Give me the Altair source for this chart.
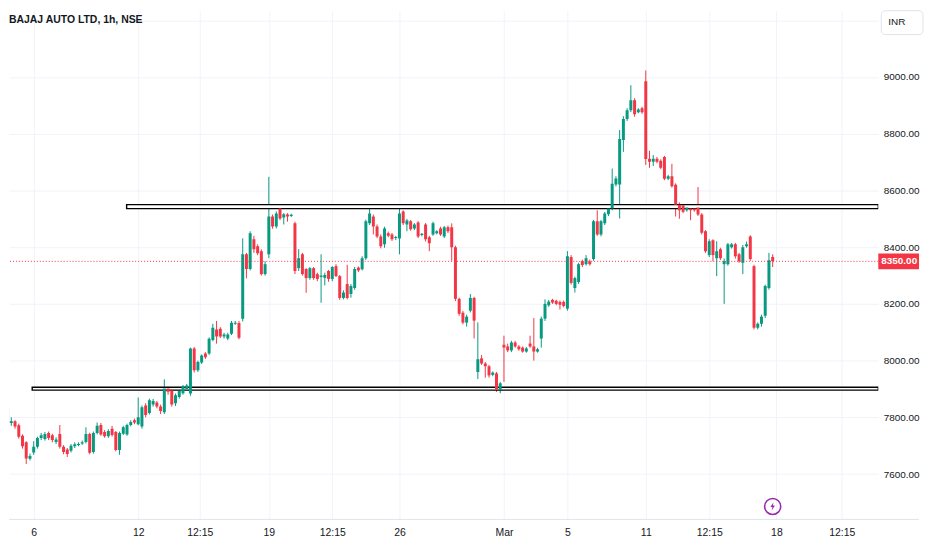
import altair as alt
import pandas as pd

# ---------------- data ----------------
opens = [7832,7780,7786,7772,7735,7712,7654,7676,7696,7727,7724,7745,7737,7713,7741,7696,7687,7682,7698,7703,
         7708,7713,7741,7678,7745,7773,7748,7733,7760,7748,7685,7742,7740,7773,7790,7776,7768,7842,7815,7845,
         7852,7838,7818,7902,7895,7850,7872,7885,7900,7884,8043,7966,7993,8025,8025,8073,8110,8112,8085,8078,
         8095,8130,8133,8148,8375,8323,8428,8403,8386,8305,8375,8508,8473,8536,8505,8515,8510,8484,8326,8375,
         8323,8291,8326,8305,8295,8292,8316,8288,8333,8298,8221,8270,8235,8256,8328,8322,8361,8484,8508,8473,
         8438,8410,8449,8445,8433,8431,8526,8480,8491,8466,8487,8443,8480,8435,8445,8449,8466,8438,8470,8470,
         8400,8218,8169,8134,8176,8221,7960,8008,7990,7980,7950,7955,7897,8056,8050,8036,8064,8050,8046,8032,
         8060,8050,8032,8078,8148,8195,8214,8211,8207,8207,8183,8365,8256,8277,8351,8340,8350,8358,8491,8445,
         8484,8516,8536,8621,8621,8778,8852,8883,8918,8876,8890,8985,8712,8701,8712,8705,8718,8641,8650,8620,
         8550,8548,8530,8536,8536,8540,8515,8456,8372,8424,8361,8393,8340,8340,8400,8410,8375,8345,8403,8438,
         8333,8116,8130,8158,8256,8365]
highs = [7843,7800,7790,7778,7740,7716,7672,7716,7732,7745,7748,7750,7742,7730,7773,7702,7692,7706,7712,7712,
         7718,7765,7746,7750,7782,7780,7755,7758,7770,7752,7750,7770,7778,7790,7796,7870,7842,7850,7866,7865,
         7858,7845,7934,7908,7900,7884,7900,7914,7918,8046,8048,8000,8022,8030,8082,8130,8140,8118,8098,8098,
         8140,8140,8140,8431,8380,8456,8440,8410,8392,8350,8648,8515,8526,8545,8520,8520,8518,8490,8393,8380,
         8326,8330,8330,8310,8375,8310,8320,8333,8340,8302,8248,8338,8270,8330,8332,8368,8497,8550,8515,8480,
         8445,8472,8455,8450,8440,8543,8530,8500,8496,8485,8492,8450,8485,8440,8490,8460,8472,8475,8476,8484,
         8405,8222,8175,8162,8235,8225,8135,8020,7995,7985,7962,7960,7925,8088,8060,8070,8070,8055,8050,8048,
         8088,8150,8045,8155,8216,8214,8218,8215,8212,8212,8386,8372,8296,8345,8356,8372,8356,8496,8530,8496,
         8524,8541,8677,8650,8813,8862,8890,8971,8925,8890,8895,9023,8740,8725,8718,8710,8722,8655,8694,8625,
         8558,8552,8545,8540,8540,8612,8520,8460,8428,8428,8421,8398,8360,8415,8415,8415,8380,8408,8420,8442,
         8338,8135,8162,8268,8380,8375]
lows = [7750,7770,7760,7725,7690,7636,7648,7668,7690,7720,7718,7720,7712,7706,7690,7670,7660,7676,7692,7698,
        7703,7708,7670,7672,7740,7735,7728,7728,7732,7680,7668,7738,7735,7768,7776,7772,7760,7800,7810,7838,
        7832,7812,7812,7880,7838,7840,7866,7880,7895,7876,7958,7960,7988,8006,8020,8068,8060,8080,8078,8072,
        8090,8126,8075,8138,8290,8318,8380,8372,8300,8300,8361,8465,8466,8495,8480,8490,8506,8305,8316,8300,
        8239,8285,8285,8280,8204,8265,8278,8280,8295,8214,8216,8216,8222,8250,8312,8318,8355,8478,8445,8432,
        8396,8398,8435,8422,8425,8375,8478,8456,8458,8460,8432,8438,8420,8386,8440,8445,8440,8432,8450,8352,
        8210,8158,8128,8120,8170,8078,7935,7985,7940,7940,7945,7890,7885,7925,8030,8030,8045,8035,8028,8028,
        8045,8000,8028,8046,8140,8190,8200,8195,8180,8188,8176,8268,8240,8270,8330,8335,8335,8352,8440,8438,
        8478,8510,8530,8614,8501,8736,8845,8876,8860,8872,8870,8690,8680,8686,8696,8675,8636,8636,8610,8508,
        8500,8520,8525,8495,8525,8510,8445,8380,8365,8350,8298,8355,8200,8335,8395,8360,8345,8305,8398,8352,
        8110,8110,8120,8150,8250,8330]
closes = [7780,7786,7768,7732,7698,7655,7664,7696,7727,7737,7741,7727,7720,7722,7696,7678,7671,7700,7705,7706,
          7712,7741,7675,7745,7770,7740,7733,7752,7738,7685,7745,7765,7773,7784,7782,7800,7836,7808,7860,7858,
          7838,7822,7902,7890,7845,7878,7894,7910,7912,8043,7966,7995,8018,8012,8077,8116,8085,8085,8092,8092,
          8134,8134,8081,8375,8323,8449,8393,8379,8305,8340,8508,8473,8519,8501,8516,8508,8514,8316,8361,8305,
          8291,8326,8291,8288,8300,8302,8288,8330,8298,8221,8240,8221,8263,8323,8318,8361,8491,8519,8473,8438,
          8403,8466,8440,8428,8436,8519,8484,8494,8463,8480,8438,8447,8428,8414,8484,8456,8445,8470,8456,8400,
          8218,8165,8134,8155,8221,8141,8005,7990,7980,7948,7958,7897,7920,8046,8036,8064,8050,8040,8032,8043,
          8050,8032,8040,8148,8200,8208,8205,8200,8197,8193,8368,8274,8291,8340,8337,8361,8340,8491,8445,8491,
          8519,8536,8624,8642,8781,8852,8883,8918,8869,8885,8876,8711,8701,8712,8701,8680,8641,8650,8615,8550,
          8530,8525,8540,8530,8530,8515,8451,8386,8421,8372,8386,8361,8351,8410,8410,8368,8350,8400,8410,8358,
          8116,8130,8155,8263,8354,8350]

tick_pos = [7, 35, 51.5, 70, 87, 105, 133, 150, 171, 188, 206, 223.5]
tick_labels = ["6", "12", "12:15", "19", "12:15", "26", "Mar", "5", "11", "12:15", "18", "12:15"]
price_ticks = [7600, 7800, 8000, 8200, 8400, 8600, 8800, 9000, 9200]

# horizontal support zones drawn on the chart (start index, upper, lower)
zone_start = [31.9, 6.6]
zone_top = [8550, 7906]
zone_bottom = [8536, 7896]

last_price = [8350]
title_text = ["BAJAJ AUTO LTD, 1h, NSE"]
currency = ["INR"]
event_pos = [205]
event_level = [7486]

# ---------------- styling ----------------
UP = "#089981"
DOWN = "#f23645"
TXT = "#131722"
GRID = "#f0f3fa"
FONT = "Liberation Sans"

W, H = 875, 512
xscale = alt.Scale(domain=[1.711, 231.97], nice=False, zero=False)
yscale = alt.Scale(domain=[7440.3, 9233.6], nice=False, zero=False)

label_expr = ("[" + ",".join("'%s'" % s for s in tick_labels) + "][indexof(["
              + ",".join(str(v) for v in tick_pos) + "], datum.value)]")

xaxis = alt.Axis(values=tick_pos, labelExpr=label_expr, grid=True, gridColor=GRID, gridWidth=1,
                 ticks=False, domain=False, labelPadding=8, labelFontSize=10.5, labelColor=TXT,
                 labelFont=FONT, title=None, labelFlush=False, labelOverlap=False)
yaxis = alt.Axis(orient="right", values=price_ticks,
                 labelExpr="datum.value == 9200 ? '' : format(datum.value, '.2f')",
                 grid=True, gridColor=GRID, gridWidth=1, ticks=False, domain=False,
                 labelPadding=5, labelFontSize=10, labelColor=TXT, labelFont=FONT, title=None,
                 labelFlush=False, labelOverlap=False)

X = lambda f: alt.X(f, scale=xscale, axis=xaxis)
Y = lambda f: alt.Y(f, scale=yscale, axis=yaxis)

df = pd.DataFrame({"i": list(range(len(opens))), "o": opens, "h": highs, "l": lows, "c": closes})
candle_color = alt.condition("datum.c >= datum.o", alt.value(UP), alt.value(DOWN))

base = alt.Chart(df)
wicks = base.mark_rule(strokeWidth=1, clip=True).encode(
    x=X("i:Q"), y=Y("l:Q"), y2="h:Q", color=candle_color,
)
bodies = base.transform_calculate(
    mid="(datum.o + datum.c) / 2",
    half="max(abs(datum.o - datum.c) / 2, 1.8)",
).transform_calculate(
    top="datum.mid + datum.half", bot="datum.mid - datum.half"
).mark_bar(size=3, clip=True).encode(
    x=X("i:Q"), y=Y("top:Q"), y2="bot:Q", color=candle_color,
)

zones_df = pd.DataFrame({"x0": zone_start, "top": zone_top, "bot": zone_bottom})
zones = alt.Chart(zones_df).mark_rect(fill="#ffffff", stroke="#000000", strokeWidth=1.4, clip=True).encode(
    x=X("x0:Q"), x2=alt.value(W), y=Y("top:Q"), y2="bot:Q",
)

lp_df = pd.DataFrame({"p": last_price})
price_line = alt.Chart(lp_df).mark_rule(color=DOWN, strokeDash=[1, 2], strokeWidth=1).encode(
    y=Y("p:Q")
)
price_box = alt.Chart(lp_df).transform_calculate(
    ph="datum.p + 28", pl="datum.p - 28"
).mark_rect(color=DOWN).encode(
    x=alt.value(W), x2=alt.value(W + 41), y=Y("ph:Q"), y2="pl:Q",
)
price_text = alt.Chart(lp_df).mark_text(
    align="left", baseline="middle", color="#ffffff", fontSize=10, font=FONT, fontWeight="bold"
).encode(
    x=alt.value(W + 3), y=Y("p:Q"), text=alt.Text("p:Q", format=".2f"),
)

bottom_line = alt.Chart(lp_df).mark_rule(color="#e0e3eb", strokeWidth=1).encode(
    x=alt.value(0), x2=alt.value(W + 41), y=alt.value(H)
)

title_df = pd.DataFrame({"t": title_text})
title = alt.Chart(title_df).mark_text(
    align="left", baseline="middle", fontSize=10.5, font=FONT, fontWeight="bold", color=TXT
).encode(x=alt.value(0), y=alt.value(9), text="t:N")

cur_df = pd.DataFrame({"t": currency})
cur_box = alt.Chart(cur_df).mark_rect(fill="#ffffff", stroke="#e0e3eb", strokeWidth=1, cornerRadius=4).encode(
    x=alt.value(W + 3), x2=alt.value(W + 45), y=alt.value(0), y2=alt.value(24)
)
cur_text = alt.Chart(cur_df).mark_text(
    align="left", baseline="middle", fontSize=10, font=FONT, color=TXT
).encode(x=alt.value(W + 10), y=alt.value(11), text="t:N")

ev_df = pd.DataFrame({"i": event_pos, "v": event_level})
ev_circle = alt.Chart(ev_df).mark_point(shape="circle", filled=False, size=260, strokeWidth=1.6,
                                         color="#9c27b0", opacity=1).encode(
    x=X("i:Q"), y=Y("v:Q")
)
bolt = "M0.2,-1 L-0.55,0.15 L-0.05,0.15 L-0.25,1 L0.55,-0.2 L0.05,-0.2 Z"
ev_bolt = alt.Chart(ev_df).mark_point(shape=bolt, filled=True, size=70, color="#9c27b0", opacity=1,
                                       strokeWidth=0).encode(
    x=X("i:Q"), y=Y("v:Q")
)

chart = alt.layer(
    wicks, zones, bodies, price_line, bottom_line, price_box, price_text,
    title, cur_box, cur_text, ev_circle, ev_bolt
).properties(
    width=W, height=H, padding=0, background="#ffffff"
).configure_view(stroke=None)

chart.save("out.html", embed_options={"renderer": "svg", "actions": False})
